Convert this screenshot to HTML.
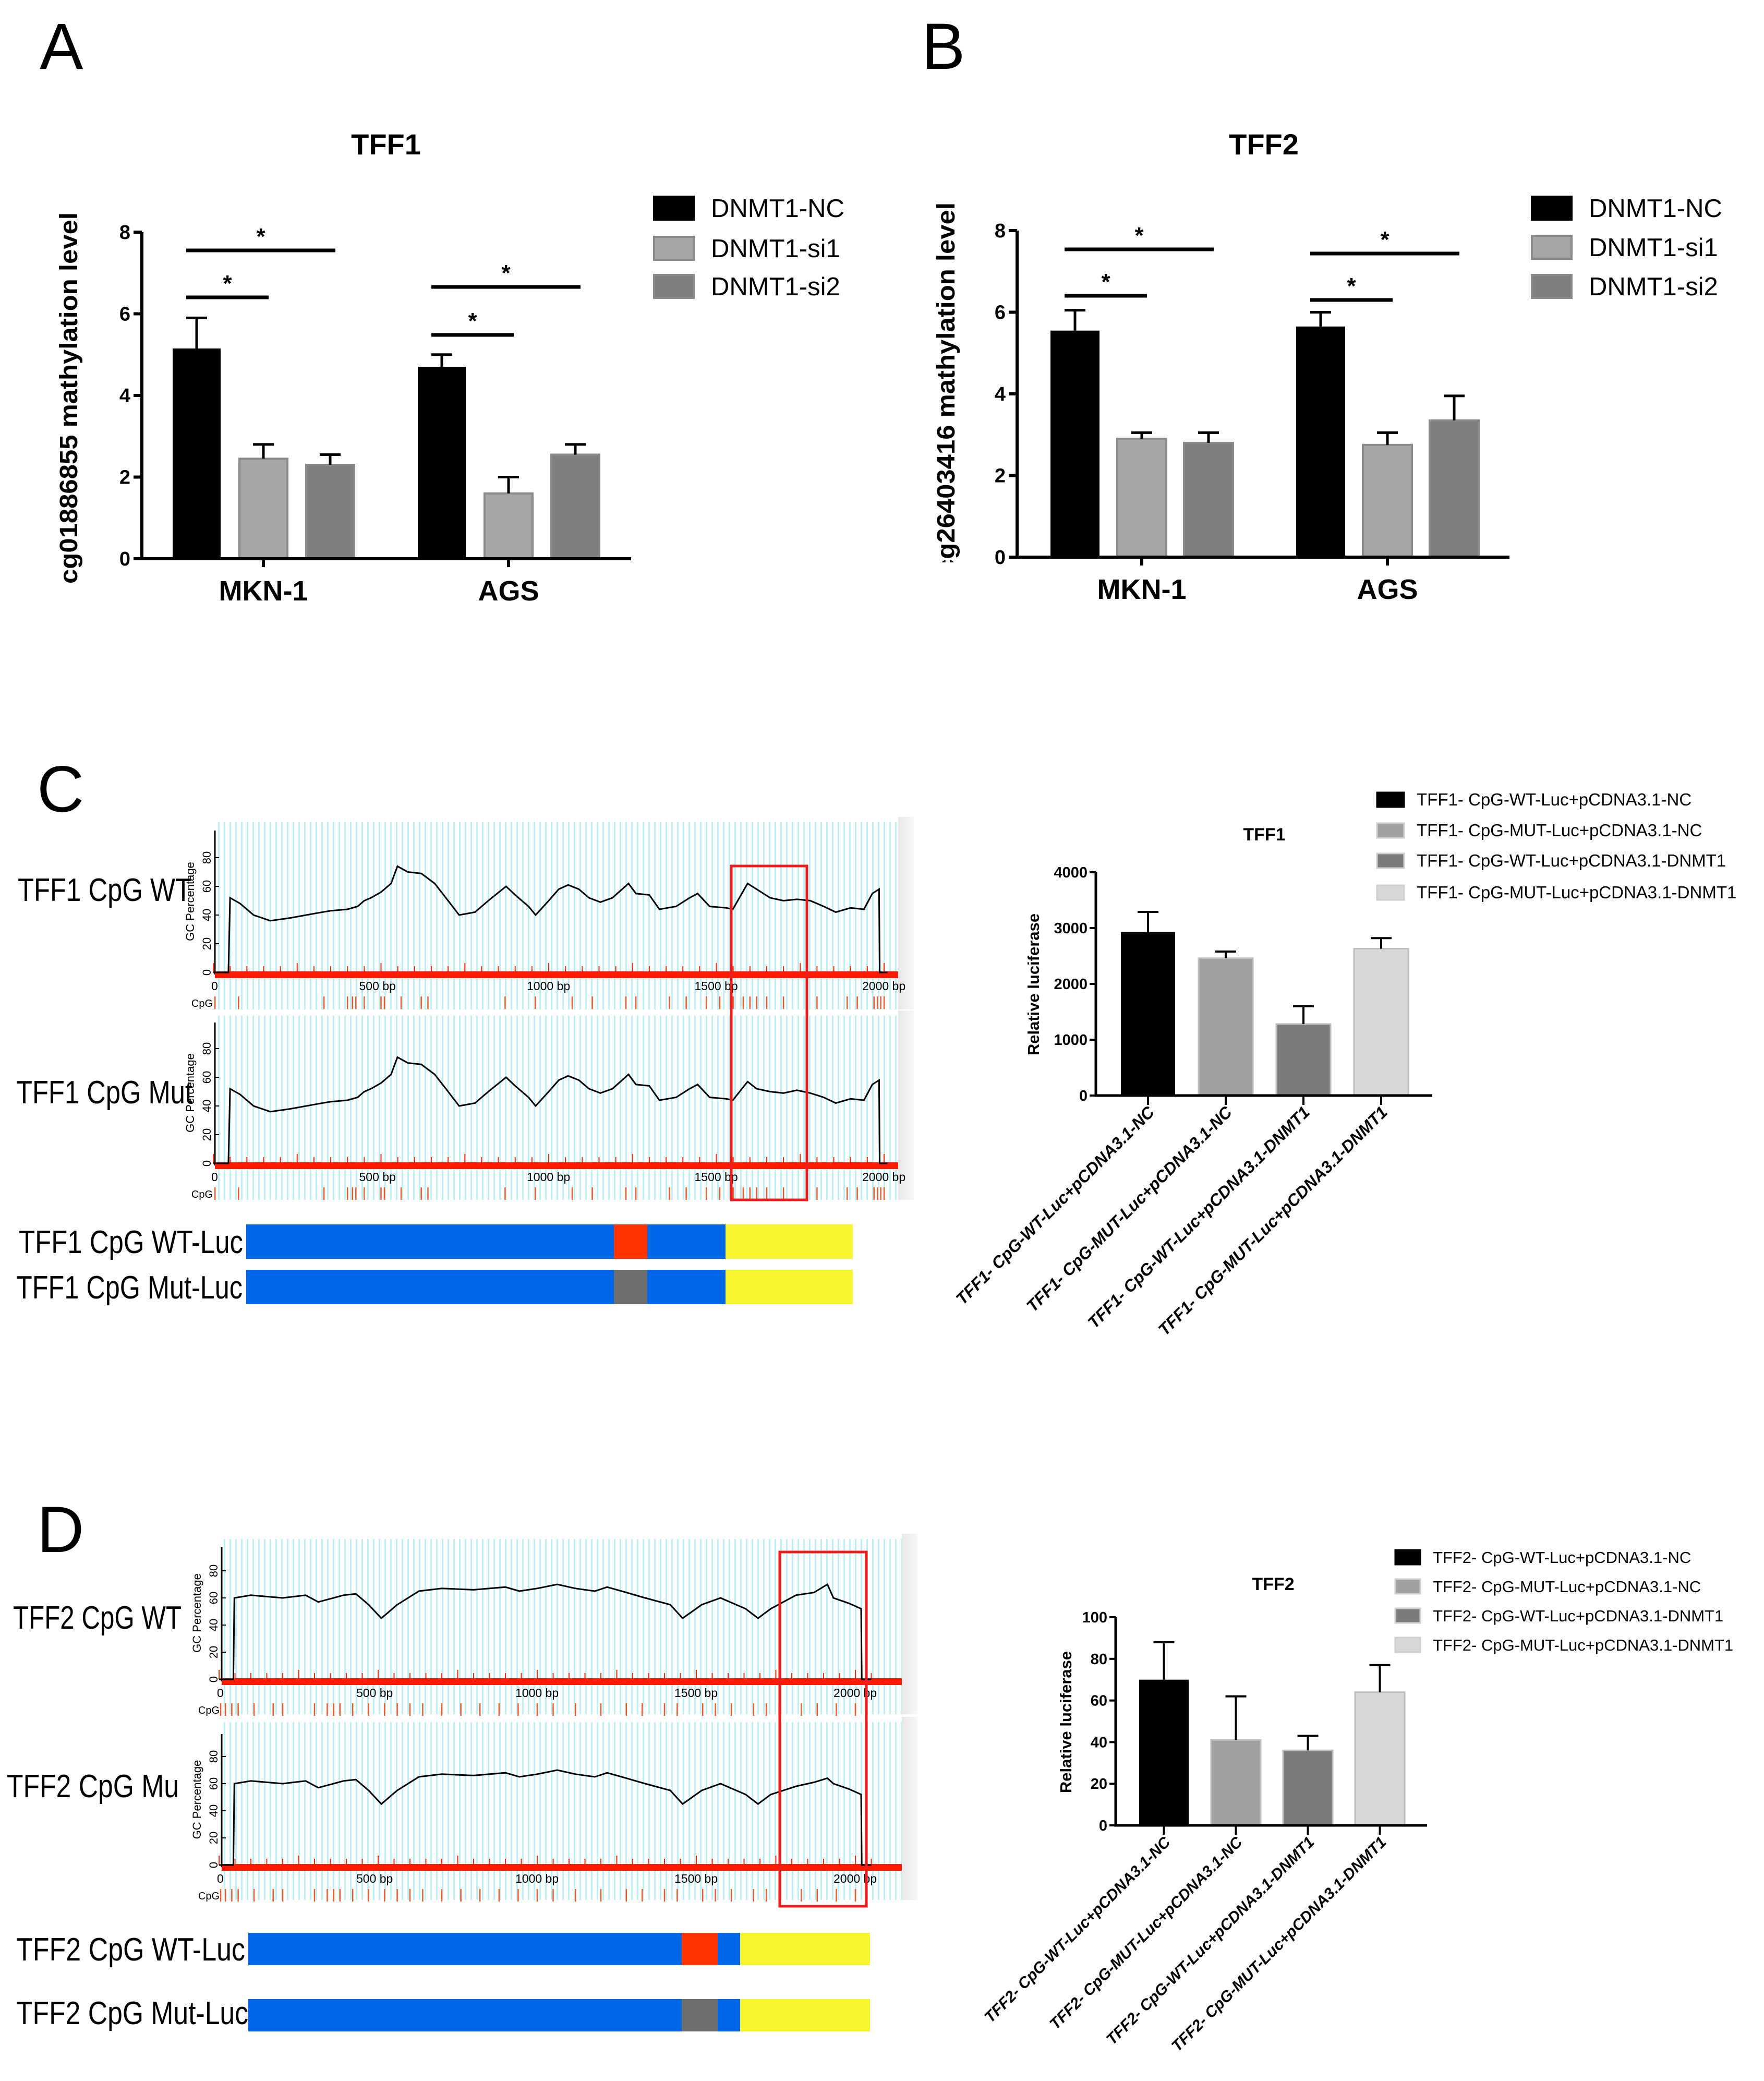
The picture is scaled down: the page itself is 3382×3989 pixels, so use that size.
<!DOCTYPE html>
<html><head><meta charset="utf-8"><style>
html,body{margin:0;padding:0;background:#fff}
svg{display:block}
text{font-family:"Liberation Sans",sans-serif}
</style></head><body>
<svg id="fig" xmlns="http://www.w3.org/2000/svg" width="3382" height="3989" viewBox="0 0 3382 3989">
<defs>
<pattern id="grid" x="0" y="0" width="11" height="20" patternUnits="userSpaceOnUse"><rect width="11" height="20" fill="#ffffff"/><rect x="0" width="3" height="20" fill="#bdeff6"/></pattern>
<linearGradient id="band" x1="0" x2="1"><stop offset="0" stop-color="#e8e8e8"/><stop offset="1" stop-color="#f8f8f8"/></linearGradient>
<clipPath id="clipB" clipPathUnits="userSpaceOnUse"><rect x="1790" y="300" width="300" height="778"/></clipPath>
</defs>
</svg>
<script>
// ---- Panel A / B data ----
const groupsAB = ['MKN-1','AGS'];
const seriesAB = ['DNMT1-NC','DNMT1-si1','DNMT1-si2'];
const ticksAB = [0,2,4,6,8];
const aNC = [5.15,4.7];
const aSi1 = [2.45,1.6];
const aSi2 = [2.3,2.55];
const aNCErr = [0.75,0.3];
const aSi1Err = [0.35,0.4];
const aSi2Err = [0.25,0.25];
const bNC = [5.55,5.65];
const bSi1 = [2.9,2.75];
const bSi2 = [2.8,3.35];
const bNCErr = [0.5,0.35];
const bSi1Err = [0.15,0.3];
const bSi2Err = [0.25,0.6];
// ---- Luciferase data ----
const lucCatsC = ['TFF1- CpG-WT-Luc+pCDNA3.1-NC','TFF1- CpG-MUT-Luc+pCDNA3.1-NC','TFF1- CpG-WT-Luc+pCDNA3.1-DNMT1','TFF1- CpG-MUT-Luc+pCDNA3.1-DNMT1'];
const lucValsC = [2930,2460,1280,2630];
const lucErrC = [360,120,320,190];
const lucTicksC = [0,1000,2000,3000,4000];
const lucCatsD = ['TFF2- CpG-WT-Luc+pCDNA3.1-NC','TFF2- CpG-MUT-Luc+pCDNA3.1-NC','TFF2- CpG-WT-Luc+pCDNA3.1-DNMT1','TFF2- CpG-MUT-Luc+pCDNA3.1-DNMT1'];
const lucValsD = [70,41,36,64];
const lucErrD = [18,21,7,13];
const lucTicksD = [0,20,40,60,80,100];
// ---- GC curves (bp, GC%) ----
const gcBp1 = [0,45,50,80,120,170,230,300,350,400,430,450,470,500,530,549,580,620,660,700,733,780,820,873,900,940,961,1000,1030,1058,1090,1120,1154,1190,1238,1260,1300,1330,1380,1420,1444,1480,1530,1549,1593,1620,1660,1700,1740,1780,1820,1856,1900,1940,1965,1985,1987,2010];
const gcVal1 = [0,0,52,48,40,36,38,41,43,44,46,50,52,56,62,74,70,69,62,50,40,42,50,60,54,46,40,50,58,61,58,52,49,52,62,55,54,44,46,52,55,46,45,44,62,58,52,50,51,50,46,42,45,44,55,58,0,0];
const gcVal1m = [0,0,52,48,40,36,38,41,43,44,46,50,52,56,62,74,70,69,62,50,40,42,50,60,54,46,40,50,58,61,58,52,49,52,62,55,54,44,46,52,55,46,45,44,57,52,50,49,51,49,46,42,45,44,55,58,0,0];
const gcBp2 = [0,45,48,100,200,272,312,391,430,470,510,560,628,700,800,900,944,1000,1063,1120,1181,1220,1280,1339,1418,1457,1517,1576,1655,1694,1734,1813,1870,1912,1931,1980,2018,2020,2050];
const gcVal2 = [0,0,60,62,60,62,57,62,63,55,45,55,65,67,66,68,65,67,70,67,65,68,64,60,55,45,55,60,52,45,52,62,64,70,60,56,52,0,0];
const gcVal2m = [0,0,60,62,60,62,57,62,63,55,45,55,65,67,66,68,65,67,70,67,65,68,64,60,55,45,55,60,52,45,52,58,61,64,60,56,52,0,0];
const cpg1 = [5,75,330,400,415,425,450,500,510,560,620,640,870,960,1070,1130,1230,1260,1360,1410,1470,1510,1550,1580,1600,1620,1650,1700,1800,1890,1920,1970,1980,1990,2000];
const cpg2 = [5,20,40,60,110,170,200,300,340,360,380,420,470,520,560,600,640,700,760,820,880,940,1000,1050,1120,1200,1280,1330,1400,1440,1520,1560,1610,1680,1720,1760,1830,1880,1940,2000];

const svg = document.getElementById('fig');
const NS = 'http://www.w3.org/2000/svg';
function mk(tag, attrs, parent){ const e=document.createElementNS(NS,tag); for(const k in attrs) e.setAttribute(k,attrs[k]); (parent||svg).appendChild(e); return e; }
function txt(s, attrs, parent){ const e=mk('text',attrs,parent); e.textContent=s; return e; }

// panel letters
[['A',76,132],['B',1767,132],['C',71,1556],['D',71,2975]].forEach(p=>{
  const t = txt(p[0],{x:p[1],y:p[2],'font-size':125});
  
  
});

// ---------- grouped bar chart ----------
function groupChart(o){
  const g = mk('g',{});
  
  
  const y = v => o.y0 - v*(o.y0-o.yTop)/8;
  const cols = ['#000000','#a6a6a6','#7f7f7f'];
  const vals = [o.nc,o.si1,o.si2];
  const errs = [o.ncE,o.si1E,o.si2E];
  groupsAB.forEach((gname,i)=>{
    const gx = o.gx0 + i*o.gPitch;
    for(let j=0;j<3;j++){
      const bx = gx + j*o.bPitch;
      const v = vals[j][i];
      const r = mk('rect',{x:bx,y:y(v),width:o.bw,height:o.y0-y(v),fill:cols[j],stroke:j?'#8a8a8a':'#000','stroke-width':j?4:0},g);
      
      
      const cx = bx+o.bw/2, top = y(v+errs[j][i]);
      const eb = mk('path',{d:`M${cx},${y(v)}V${top}M${cx-20},${top}H${cx+20}`,stroke:'#000','stroke-width':5,fill:'none'},g);
      
      
    }
    const lab = txt(gname,{x:gx+o.bPitch+o.bw/2,y:o.y0+80,'font-size':54,'font-weight':'bold','text-anchor':'middle'},g);
    
    
    [[o.sig1[i],2],[o.sig2[i],1]].forEach(s=>{
      const x1 = gx+o.bw/2-20, x2 = gx+s[1]*o.bPitch+o.bw/2+10;
      const l = mk('line',{x1:x1,x2:x2,y1:s[0],y2:s[0],stroke:'#000','stroke-width':7},g);
      
      
      const st = txt('*',{x:(x1+x2)/2,y:s[0]-12,'font-size':44,'font-weight':'bold','text-anchor':'middle'},g);
      
      
    });
  });
  const ax = mk('path',{d:`M${o.ax},${o.yTop}V${o.y0}H${o.axEnd}`,stroke:'#000','stroke-width':6,fill:'none'},g);
  
  
  ticksAB.forEach(t=>{
    const tk = mk('line',{x1:o.ax-16,x2:o.ax,y1:y(t),y2:y(t),stroke:'#000','stroke-width':6},g);
    
    
    const tl = txt(String(t),{x:o.ax-22,y:y(t)+13,'font-size':38,'font-weight':'bold','text-anchor':'end'},g);
    
    
  });
  groupsAB.forEach((gname,i)=>{
    const xc = o.gx0 + i*o.gPitch + o.bPitch + o.bw/2;
    mk('line',{x1:xc,x2:xc,y1:o.y0,y2:o.y0+16,stroke:'#000','stroke-width':6},g);
  });
  const tt = txt(o.title,{x:o.titleX,y:296,'font-size':56,'font-weight':'bold','text-anchor':'middle'},g);
  
  
  const yg = mk('g',{},g);
  if(o.clip) yg.setAttribute('clip-path','url(#clipB)');
  const yl = txt(o.ylabel,{x:0,y:0,'font-size':48,'font-weight':'bold','text-anchor':'middle',textLength:712,lengthAdjust:'spacingAndGlyphs',transform:`translate(${o.ylX},${o.ylY}) rotate(-90)`},yg);
  
  
  seriesAB.forEach((s,j)=>{
    const cy = o.legY[j];
    const sq = mk('rect',{x:o.legX,y:cy-22,width:76,height:44,fill:cols[j],stroke:j?'#8a8a8a':'#000','stroke-width':4},g);
    
    
    const lt = txt(s,{x:o.legX+109,y:cy+17,'font-size':49},g);
    
    
  });
}
groupChart({name:'chart-a-tff1-methylation',nc:aNC,si1:aSi1,si2:aSi2,ncE:aNCErr,si1E:aSi1Err,si2E:aSi2Err,
  y0:1071,yTop:445,ax:272,axEnd:1210,gx0:331,gPitch:470,bPitch:128,bw:92,
  sig1:[480,550],sig2:[570,642],title:'TFF1',titleX:740,ylabel:'cg01886855 mathylation level',ylX:148,ylY:763,
  legX:1254,legY:[399,476,549]});
groupChart({name:'chart-b-tff2-methylation',nc:bNC,si1:bSi1,si2:bSi2,ncE:bNCErr,si1E:bSi1Err,si2E:bSi2Err,
  y0:1068,yTop:442,ax:1950,axEnd:2894,gx0:2014,gPitch:471,bPitch:128,bw:94,
  sig1:[478,486],sig2:[567,575],title:'TFF2',titleX:2423,ylabel:'cg26403416 mathylation level',ylX:1830,ylY:744,clip:true,
  legX:2937,legY:[399,474,549]});

// ---------- luciferase bar charts ----------
function lucChart(o){
  const g = mk('g',{});
  
  
  const maxT = o.ticks[o.ticks.length-1];
  const y = v => o.y0 - v*(o.y0-o.yTop)/maxT;
  const cols = ['#000000','#a0a0a0','#7b7b7b','#d8d8d8'];
  o.vals.forEach((v,i)=>{
    const bx = o.bx0 + i*o.bPitch;
    const r = mk('rect',{x:bx,y:y(v),width:o.bw,height:o.y0-y(v),fill:cols[i],stroke:i?'#bdbdbd':'#000','stroke-width':i?3:0},g);
    
    
    const cx = bx+o.bw/2, top=y(v+o.errs[i]);
    const eb = mk('path',{d:`M${cx},${y(v)}V${top}M${cx-20},${top}H${cx+20}`,stroke:'#000','stroke-width':4,fill:'none'},g);
    
    
    mk('line',{x1:cx,x2:cx,y1:o.y0,y2:o.y0+18,stroke:'#000','stroke-width':4},g);
    const cl = txt(o.cats[i],{x:0,y:0,'font-size':o.catFs,'font-weight':'bold','font-style':'italic','text-anchor':'end',transform:`translate(${cx+14},${o.y0+34}) rotate(-45)`},g);
    
    
    const sq = mk('rect',{x:o.legX,y:o.legY[i]-14,width:o.legW,height:28,fill:cols[i],stroke:i?'#cfcfcf':'#000','stroke-width':3},g);
    
    
    const lt = txt(o.cats[i],{x:o.legX+o.legW+24,y:o.legY[i]+11,'font-size':o.legFs},g);
    
    
  });
  const ax = mk('path',{d:`M${o.ax},${o.yTop}V${o.y0}H${o.axEnd}`,stroke:'#000','stroke-width':5,fill:'none'},g);
  
  
  o.ticks.forEach(t=>{
    mk('line',{x1:o.ax-12,x2:o.ax,y1:y(t),y2:y(t),stroke:'#000','stroke-width':4},g);
    const tl = txt(String(t),{x:o.ax-16,y:y(t)+10,'font-size':29,'font-weight':'bold','text-anchor':'end'},g);
    
    
  });
  const tt = txt(o.title,{x:o.titleX,y:o.titleY,'font-size':34,'font-weight':'bold','text-anchor':'middle'},g);
  
  
  const yl = txt('Relative luciferase',{x:0,y:0,'font-size':31,'font-weight':'bold','text-anchor':'middle',transform:`translate(${o.ylX},${o.ylY}) rotate(-90)`},g);
  
  
}
lucChart({name:'chart-c-luciferase',vals:lucValsC,errs:lucErrC,cats:lucCatsC,ticks:lucTicksC,y0:2100,yTop:1672,ax:2101,axEnd:2746,
  bx0:2149,bPitch:149,bw:104,catFs:32,title:'TFF1',titleX:2424,titleY:1611,ylX:1992,ylY:1887,legX:2640,legW:52,legY:[1533,1592,1650,1711],legFs:33});
lucChart({name:'chart-d-luciferase',vals:lucValsD,errs:lucErrD,cats:lucCatsD,ticks:lucTicksD,y0:3499,yTop:3100,ax:2139,axEnd:2736,
  bx0:2184,bPitch:138,bw:95,catFs:30,title:'TFF2',titleX:2441,titleY:3048,ylX:2054,ylY:3301,legX:2675,legW:48,legY:[2985,3041,3097,3153],legFs:31});

// ---------- GC content plots ----------
function gcPlot(o){
  const g = mk('g',{});
  
  
  const X = bp => o.x0 + bp*o.k;
  const Y = v => o.y0 - v*o.unit;
  const bg = mk('rect',{x:o.ax,y:o.bgTop,width:o.right-o.ax,height:o.bgBot-o.bgTop,fill:'url(#grid)'},g);
  
  
  mk('rect',{x:o.right,y:o.bgTop-10,width:30,height:o.bgBot-o.bgTop+10,fill:'url(#band)'},g);
  mk('line',{x1:o.ax,x2:o.ax,y1:o.axTop,y2:o.y0+4,stroke:'#000','stroke-width':3},g);
  [0,20,40,60,80].forEach(t=>{
    mk('line',{x1:o.ax,x2:o.ax+8,y1:Y(t),y2:Y(t),stroke:'#000','stroke-width':2},g);
    const tl = txt(String(t),{x:0,y:0,'font-size':22,'font-family':'DejaVu Sans Mono','text-anchor':'middle',transform:`translate(${o.ax-8},${Y(t)}) rotate(-90)`},g);
    
    
  });
  const yt = txt('GC Percentage',{x:0,y:0,'font-size':22,'font-family':'DejaVu Sans Mono','text-anchor':'middle',transform:`translate(${o.ax-40},${(o.axTop+o.y0)/2}) rotate(-90)`},g);
  
  
  for(let b=0;b<=o.maxBp;b+=50){
    mk('line',{x1:X(b),x2:X(b),y1:o.y0-(b%250===0?18:12),y2:o.y0,stroke:'#ff2a00','stroke-width':2},g);
  }
  const rb = mk('rect',{x:o.ax,y:o.y0-2,width:o.right-o.ax,height:13,fill:'#ff1a00'},g);
  
  
  const pts = o.bp.map((b,i)=>X(b).toFixed(1)+','+Y(o.val[i]).toFixed(1)).join(' ');
  const pl = mk('polyline',{points:pts,fill:'none',stroke:'#000','stroke-width':3},g);
  
  
  [0,500,1000,1500,2000].forEach(b=>{
    const tl = txt(b? b+' bp':'0',{x:X(b)-(b?42:4),y:o.y0+34,'font-size':23,'font-family':'DejaVu Sans Mono'},g);
    
    
  });
  const cp = txt('CpG',{x:o.ax-4,y:o.y0+66,'font-size':20,'font-family':'DejaVu Sans Mono','text-anchor':'end'},g);
  
  
  o.cpg.forEach(b=>{
    const t = mk('line',{x1:X(b),x2:X(b),y1:o.y0+46,y2:o.y0+70,stroke:'#f05a28','stroke-width':2.5},g);
    
    
  });
}
gcPlot({name:'gc-plot-tff1-wt',x0:409,k:0.643,ax:412,right:1722,bgTop:1576,bgBot:1935,axTop:1592,y0:1864,unit:2.75,maxBp:2000,bp:gcBp1,val:gcVal1,cpg:cpg1});
gcPlot({name:'gc-plot-tff1-mut',x0:409,k:0.643,ax:412,right:1722,bgTop:1947,bgBot:2300,axTop:1960,y0:2230,unit:2.75,maxBp:2000,bp:gcBp1,val:gcVal1m,cpg:cpg1});
gcPlot({name:'gc-plot-tff2-wt',x0:420,k:0.61,ax:425,right:1729,bgTop:2950,bgBot:3286,axTop:2965,y0:3219,unit:2.6,maxBp:2050,bp:gcBp2,val:gcVal2,cpg:cpg2});
gcPlot({name:'gc-plot-tff2-mut',x0:420,k:0.61,ax:425,right:1729,bgTop:3301,bgBot:3642,axTop:3324,y0:3575,unit:2.6,maxBp:2050,bp:gcBp2,val:gcVal2m,cpg:cpg2});

// red highlight boxes
[[1402,1660,145,640,'highlight-box-tff1'],[1495,2975,166,679,'highlight-box-tff2']].forEach(b=>{
  const r = mk('rect',{x:b[0],y:b[1],width:b[2],height:b[3],fill:'none',stroke:'#ee1c1c','stroke-width':5});
  
  
});

// construct bars
function construct(o){
  const g = mk('g',{});
  
  
  mk('rect',{x:o.x,y:o.y,width:o.blueEnd-o.x,height:o.h,fill:'#0068e8'},g);
  mk('rect',{x:o.mx,y:o.y,width:o.mw,height:o.h,fill:o.mcol},g);
  mk('rect',{x:o.blueEnd,y:o.y,width:o.end-o.blueEnd,height:o.h,fill:'#f8f52e'},g);
}
construct({name:'construct-tff1-wt',x:472,y:2347,h:66,mx:1177,mw:64,mcol:'#ff3300',blueEnd:1391,end:1635});
construct({name:'construct-tff1-mut',x:472,y:2434,h:66,mx:1177,mw:64,mcol:'#6e6e6e',blueEnd:1391,end:1635});
construct({name:'construct-tff2-wt',x:476,y:3705,h:62,mx:1307,mw:69,mcol:'#ff3300',blueEnd:1419,end:1668});
construct({name:'construct-tff2-mut',x:476,y:3832,h:62,mx:1307,mw:69,mcol:'#6e6e6e',blueEnd:1419,end:1668});

// left labels
[['TFF1 CpG WT',34,1727,333],['TFF1 CpG Mut',31,2115,338],['TFF2 CpG WT',25,3122,323],['TFF2 CpG Mu',13,3445,330],
 ['TFF1 CpG WT-Luc',36,2402,430],['TFF1 CpG Mut-Luc',31,2489,434],['TFF2 CpG WT-Luc',31,3758,439],['TFF2 CpG Mut-Luc',31,3880,445]].forEach(l=>{
  const t = txt(l[0],{x:l[1],y:l[2],'font-size':62,textLength:l[3],lengthAdjust:'spacingAndGlyphs'});
  
  
});
</script>
</body></html>
